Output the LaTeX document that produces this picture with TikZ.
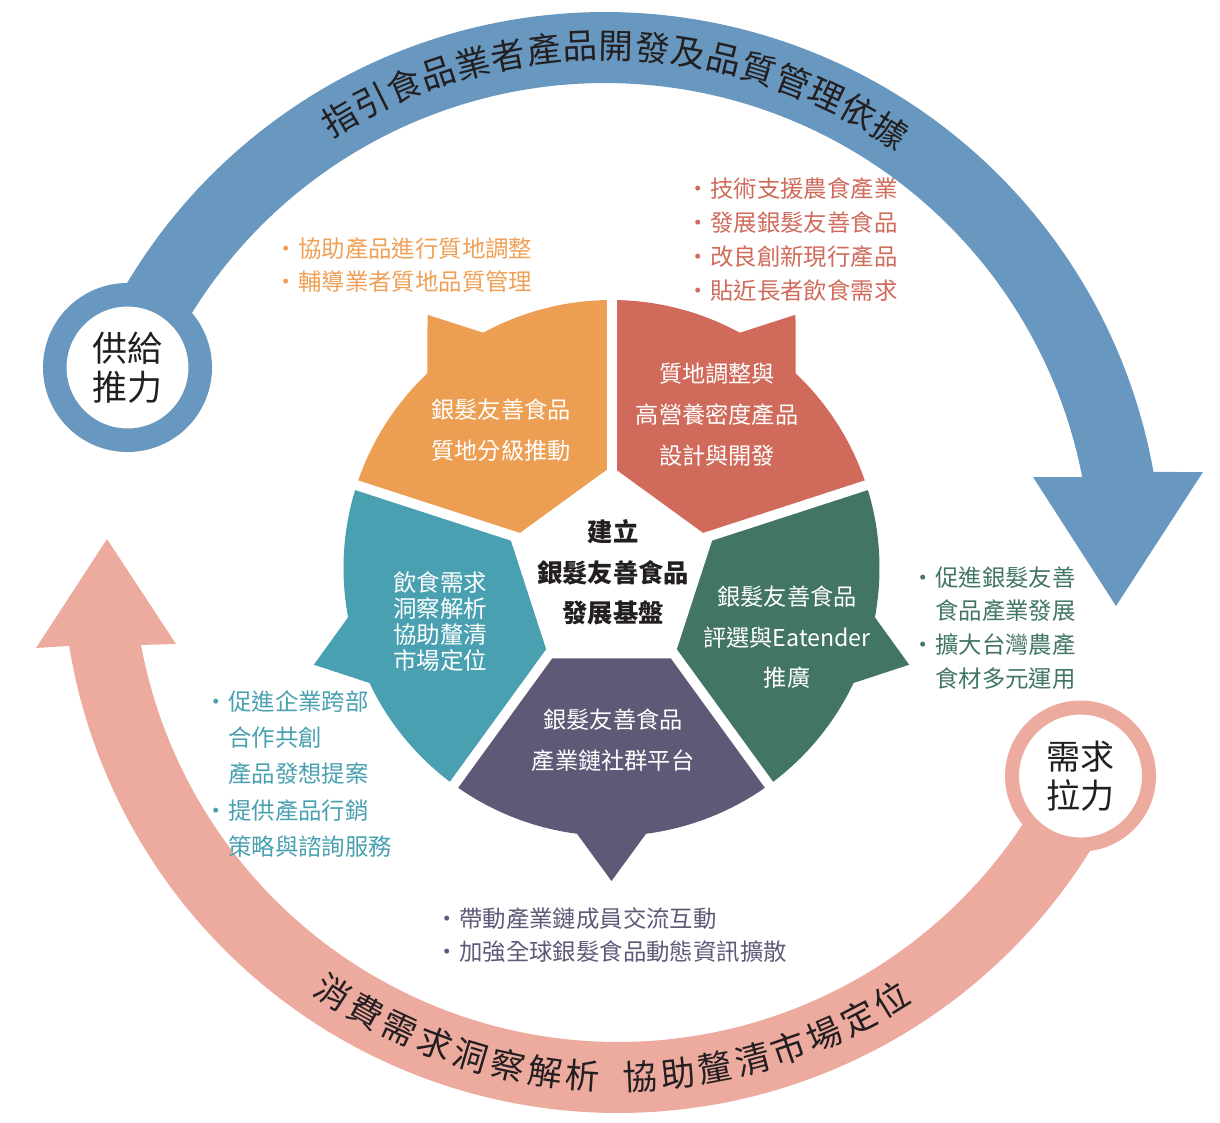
\documentclass[tikz,border=0pt]{standalone}
\usepackage{fontspec}
\setmainfont{Noto Sans CJK TC}
\definecolor{cBlue}{HTML}{6897BF}
\definecolor{cPink}{HTML}{EDAB9F}
\definecolor{cOrange}{HTML}{EC9F52}
\definecolor{cRed}{HTML}{D06A5B}
\definecolor{cGreen}{HTML}{427565}
\definecolor{cPurple}{HTML}{5F5977}
\definecolor{cTeal}{HTML}{49A0B0}
\definecolor{cOrangeT}{HTML}{EFA057}
\definecolor{cBlack}{HTML}{231F20}
\tikzset{
  lbl/.style={text=white, align=center, inner sep=0pt, font=\fontsize{23.2}{41}\selectfont},
  bul/.style={anchor=base west, inner sep=0pt, font=\fontsize{23.4}{28}\selectfont},
  arcTxt/.style={inner sep=0pt, text=cBlack, font=\fontsize{34.5}{35}\selectfont},
  ringA/.style={circle, draw=cBlue, line width=23.5pt, fill=white, minimum size=145.5pt, inner sep=0pt,
     align=center, text=cBlack, font=\fontsize{35}{39}\selectfont},
  ringB/.style={circle, draw=cPink, line width=14pt, fill=white, minimum size=137pt, inner sep=0pt,
     align=center, text=cBlack, font=\fontsize{34}{39}\selectfont},
}
\begin{document}
\begin{tikzpicture}[x=1pt,y=-1pt]
\useasboundingbox (0,0) rectangle (1220,1122);

% ---------- blue supply arrow ----------
\fill[cBlue] plot[domain=157:10.03,samples=140] ({605+557*cos(\x)},{569-557*sin(\x)})
  -- (1203,472) -- (1116,606) -- (1033,477)
  -- plot[domain=10.91:157,samples=140] ({605+486*cos(\x)},{569-486*sin(\x)}) -- cycle;

% ---------- pink demand arrow ----------
\fill[cPink] plot[domain=-25.3:-170.8,samples=150] ({618+556*cos(\x)},{557-556*sin(\x)})
  -- (36,648) -- (107,539) -- (176,644)
  -- plot[domain=-169.55:-25.3,samples=150] ({618+485*cos(\x)},{557-485*sin(\x)}) -- cycle;

% ---------- rings ----------
\node[ringA] (supply) at (127.5,367.5) {供給\\推力};
\node[ringB] (demand) at (1080.5,776) {需求\\拉力};

% ---------- arc texts ----------
\foreach \c [count=\i from 0] in {指,引,食,品,業,者,產,品,開,發,及,品,質,管,理,依,據} {
  \pgfmathsetmacro\ang{120.5-\i*3.97}
  \node[arcTxt, rotate=\ang-90] (bt\i) at ({605+523*cos(\ang)},{569-523*sin(\ang)}) {\c};
}
\foreach \c [count=\i from 0] in {消,費,需,求,洞,察,解,析,協,助,釐,清,市,場,定,位} {
  \pgfmathsetmacro\ang{-123.2+(\i+0.5*(\i>7))*4.19}
  \node[arcTxt, rotate=\ang+90] (pt\i) at ({618+520*cos(\ang)},{557-520*sin(\ang)}) {\c};
}

% ---------- flower pieces ----------
\def\cx{611.5}\def\cy{568}
\foreach \a/\col in {126/cOrange, 54/cRed, -18/cGreen, -90/cPurple, 198/cTeal} {
  \fill[\col] (\cx,\cy)
    -- plot[domain=\a-36:\a-7.4,samples=30] ({\cx+268*cos(\x)},{\cy-268*sin(\x)})
    -- ({\cx+313*cos(\a)},{\cy-313*sin(\a)})
    -- plot[domain=\a+7.4:\a+36,samples=30] ({\cx+268*cos(\x)},{\cy-268*sin(\x)})
    -- cycle;
}
\foreach \g in {90,18,-54,-126,162} {
  \draw[white, line width=10pt] (\cx,\cy) -- ({\cx+345*cos(\g)},{\cy-345*sin(\g)});
}
\fill[white] ({611.5+106*cos(90)},{572.5-106*sin(90)})
  -- ({611.5+106*cos(162)},{572.5-106*sin(162)})
  -- ({611.5+106*cos(234)},{572.5-106*sin(234)})
  -- ({611.5+106*cos(306)},{572.5-106*sin(306)})
  -- ({611.5+106*cos(18)},{572.5-106*sin(18)}) -- cycle;

% ---------- piece labels ----------
\node[lbl] (lOrange) at (501,430.5) {銀髮友善食品\\質地分級推動};
\node[lbl] (lRed) at (717,415) {質地調整與\\高營養密度產品\\設計與開發};
\node[lbl, font=\fontsize{23.2}{40.5}\selectfont] (lGreen) at (787,637.5) {銀髮友善食品\\評選與Eatender\\推廣};
\node[lbl] (lPurple) at (613,740.5) {銀髮友善食品\\產業鏈社群平台};
\node[lbl, font=\fontsize{23.5}{26.3}\selectfont] (lTeal) at (440,621.5) {飲食需求\\洞察解析\\協助釐清\\市場定位};
\node[lbl, text=cBlack, font=\fontsize{25.3}{40.5}\selectfont\bfseries] (lCenter) at (613,572.5) {建立\\銀髮友善食品\\發展基盤};

% ---------- bullet texts ----------
\begin{scope}[every node/.style={bul, text=cOrangeT}]
\node (o1) at (274.6,257) {・協助產品進行質地調整};
\node (o2) at (274.6,290) {・輔導業者質地品質管理};
\end{scope}
\begin{scope}[every node/.style={bul, text=cRed}]
\node (r1) at (686.6,197) {・技術支援農食產業};
\node (r2) at (686.6,231) {・發展銀髮友善食品};
\node (r3) at (686.6,265) {・改良創新現行產品};
\node (r4) at (686.6,299) {・貼近長者飲食需求};
\end{scope}
\begin{scope}[every node/.style={bul, text=cGreen}]
\node (g1) at (911.6,586) {・促進銀髮友善};
\node (g2) at (935,619) {食品產業發展};
\node (g3) at (911.6,653) {・擴大台灣農產};
\node (g4) at (935,687) {食材多元運用};
\end{scope}
\begin{scope}[every node/.style={bul, text=cTeal}]
\node (t1) at (204.6,710) {・促進企業跨部};
\node (t2) at (228,746) {合作共創};
\node (t3) at (228,782) {產品發想提案};
\node (t4) at (204.6,819) {・提供產品行銷};
\node (t5) at (228,855) {策略與諮詢服務};
\end{scope}
\begin{scope}[every node/.style={bul, text=cPurple}]
\node (u1) at (435.6,927) {・帶動產業鏈成員交流互動};
\node (u2) at (435.6,960) {・加強全球銀髮食品動態資訊擴散};
\end{scope}
\end{tikzpicture}
\end{document}
